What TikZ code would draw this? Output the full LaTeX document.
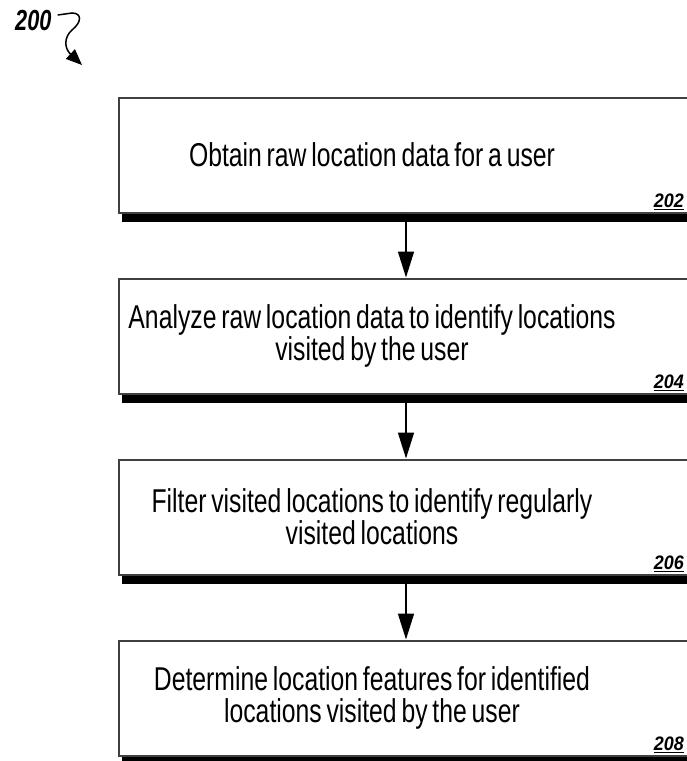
\documentclass[tikz,border=0pt]{standalone}
\usepackage{fontspec}
\setmainfont{Liberation Sans}[FakeStretch=0.75, WordSpace=0.7]
\newfontfamily\numfont{Liberation Sans}[FakeStretch=0.92]
\newfontfamily\fignumfont{Liberation Sans}[FakeStretch=0.75]
\usetikzlibrary{arrows.meta,positioning,shadows}

\tikzset{
  stepbox/.style={rectangle, draw=black!75, line width=2pt, fill=white,
    minimum width=574pt, minimum height=115pt,
    drop shadow={shadow xshift=3pt, shadow yshift=-9pt, fill=black, opacity=1}},
  steptext/.style={align=center, inner sep=0pt, font=\fontsize{33}{32}\selectfont},
  numlabel/.style={inner sep=0pt, font=\numfont\bfseries\itshape\fontsize{19.5}{19.5}\selectfont},
  figlabel/.style={inner sep=0pt, font=\fignumfont\bfseries\itshape\fontsize{29}{29}\selectfont},
  flow/.style={-{Triangle[length=26pt,width=16pt]}, line width=1.5pt},
  pointer/.style={-{Triangle[length=16pt,width=13pt]}, line width=1.5pt}
}

\begin{document}
\begin{tikzpicture}[x=1pt, y=-1pt]
    \useasboundingbox (0,0) rectangle (687,761);
    \clip (0,0) rectangle (687,761);

    % Nodes {b202, b204, b206, b208}
    \node [stepbox]                     (b202) at (406,155) {};
    \node [stepbox, below=64pt of b202] (b204)              {};
    \node [stepbox, below=64pt of b204] (b206)              {};
    \node [stepbox, below=64pt of b206] (b208)              {};

    % Texts
    \node [steptext, xshift=-34pt] (t202) at (b202) {Obtain raw location data for a user};
    \node [steptext, xshift=-34pt] (t204) at (b204) {Analyze raw location data to identify locations\\ visited by the user};
    \node [steptext, xshift=-34pt] (t206) at (b206) {Filter visited locations to identify regularly\\ visited locations};
    \node [steptext, xshift=-34pt] (t208) at (b208) {Determine location features for identified\\ locations visited by the user};

    % Labels
    \node [numlabel, anchor=base east] (l202) at ([xshift=-10pt,yshift=6pt]b202.south east) {\underline{202}};
    \node [numlabel, anchor=base east] (l204) at ([xshift=-10pt,yshift=6pt]b204.south east) {\underline{204}};
    \node [numlabel, anchor=base east] (l206) at ([xshift=-10pt,yshift=6pt]b206.south east) {\underline{206}};
    \node [numlabel, anchor=base east] (l208) at ([xshift=-10pt,yshift=6pt]b208.south east) {\underline{208}};
    \node [figlabel, anchor=base west] (l200) at (15,30) {200};
    \coordinate (tip200) at (82,65);

    % Paths
    \path [flow] (b202) edge (b204);
    \path [flow] (b204) edge (b206);
    \path [flow] (b206) edge (b208);
    \draw [pointer] ([xshift=6pt,yshift=5pt]l200.east) -- (72,13)
        .. controls (82,13) and (82,22) .. (72,30)
        .. controls (64,37) and (64,48) .. (tip200);

\end{tikzpicture}
\end{document}
